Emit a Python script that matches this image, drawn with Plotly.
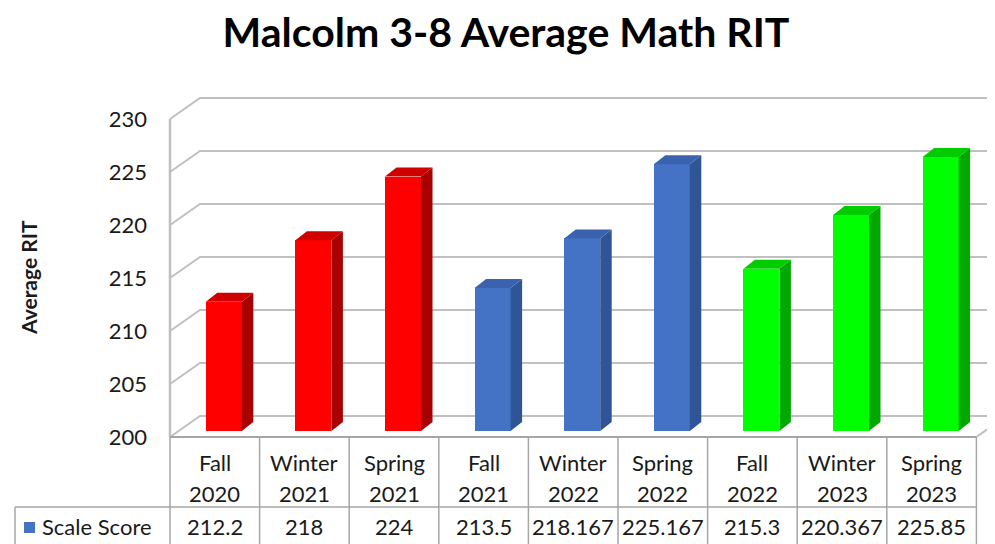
import plotly.graph_objects as go

# ---------------- data ----------------
categories = ["Fall 2020", "Winter 2021", "Spring 2021",
              "Fall 2021", "Winter 2022", "Spring 2022",
              "Fall 2022", "Winter 2023", "Spring 2023"]
scores = [212.2, 218, 224, 213.5, 218.167, 225.167, 215.3, 220.367, 225.85]
y_ticks = [200, 205, 210, 215, 220, 225, 230]
series_name = "Scale Score"
chart_title = "Malcolm 3-8 Average Math RIT"
y_title = "Average RIT"

# ---------------- styles ----------------
front_colors = ["#FF0000"] * 3 + ["#4472C4"] * 3 + ["#00FF00"] * 3
side_colors = ["#A80000"] * 3 + ["#2F5597"] * 3 + ["#00A800"] * 3
top_colors = ["#D00000"] * 3 + ["#3A62AE"] * 3 + ["#00CC00"] * 3
grid_color = "#C0C0C0"
table_color = "#A6A6A6"
font_family = "Lato, Carlito, 'Open Sans', sans-serif"

# the page body has an 8px margin; work in page pixels and shift
OFF = 8
PAGE_W, PAGE_H = 995, 544
FIG_W, FIG_H = PAGE_W - OFF, PAGE_H - OFF
LEFT_PX, TOP_PX, BOTTOM_PX = 168, 90, 437     # plot area in page pixels
M_L, M_T = LEFT_PX - OFF, TOP_PX - OFF
M_B = FIG_H - (BOTTOM_PX - OFF)
PLOT_W = FIG_W - M_L
PLOT_H = FIG_H - M_T - M_B
PX = 89.6     # pixels per category
PY = 10.6     # pixels per score unit
Y0 = y_ticks[0]

x_min = -0.5 - (170 - LEFT_PX) / PX
x_max = x_min + PLOT_W / PX
y_min = Y0
y_max = Y0 + PLOT_H / PY

# pseudo 3D offsets (data units)
BACK_DX, BACK_DY = 30 / PX, 21 / PY      # back wall
BAR_DX, BAR_DY = 9 / PX, 6 / PY          # bar plane
BAR_W = 36 / PX
DEP_DX, DEP_DY = 11.5 / PX, 9 / PY       # bar depth


def px_to_paper_x(p):
    return (p - LEFT_PX) / PLOT_W


def px_to_paper_y(p):
    return (BOTTOM_PX - p) / PLOT_H


fig = go.Figure()

shapes = []
# back wall gridlines + side wall diagonals
for v in y_ticks:
    shapes.append(dict(type="path", xref="x", yref="y", layer="below",
                       path=f"M {-0.5},{v} L {-0.5 + BACK_DX},{v + BACK_DY} L {x_max + 1},{v + BACK_DY}",
                       line=dict(color=grid_color, width=2)))
# right floor edge
shapes.append(dict(type="line", xref="x", yref="y", layer="below",
                   x0=len(categories) - 0.5, y0=Y0,
                   x1=len(categories) - 0.5 + BACK_DX, y1=Y0 + BACK_DY,
                   line=dict(color=grid_color, width=2)))
# front vertical axis line
shapes.append(dict(type="line", xref="x", yref="y", layer="above",
                   x0=-0.5, y0=y_ticks[0], x1=-0.5, y1=y_ticks[-1],
                   line=dict(color="#BFBFBF", width=2.5)))

# bar fronts
base = Y0 + BAR_DY
fig.add_trace(go.Bar(
    x=[i + BAR_DX for i in range(len(categories))],
    y=[s - Y0 for s in scores],
    base=base,
    width=BAR_W,
    marker=dict(color=front_colors, line=dict(width=0)),
    hoverinfo="skip",
    showlegend=False,
))

# side and top faces
for i, s in enumerate(scores):
    xc = i + BAR_DX
    x0, x1 = xc - BAR_W / 2, xc + BAR_W / 2
    top = s + BAR_DY
    fig.add_trace(go.Scatter(
        x=[x1, x1 + DEP_DX, x1 + DEP_DX, x1, x1],
        y=[base, base + DEP_DY, top + DEP_DY, top, base],
        mode="lines", fill="toself", fillcolor=side_colors[i],
        line=dict(width=0), hoverinfo="skip", showlegend=False))
    fig.add_trace(go.Scatter(
        x=[x0, x0 + DEP_DX, x1 + DEP_DX, x1, x0],
        y=[top, top + DEP_DY, top + DEP_DY, top, top],
        mode="lines", fill="toself", fillcolor=top_colors[i],
        line=dict(width=0), hoverinfo="skip", showlegend=False))

# ---------------- data table ----------------
row_line_y = px_to_paper_y(507)
bottom_y = px_to_paper_y(560)
shapes.append(dict(type="line", xref="x", yref="paper", x0=-0.5, x1=len(categories) - 0.5,
                   y0=0, y1=0, line=dict(color=table_color, width=2)))
for i in range(len(categories) + 1):
    shapes.append(dict(type="line", xref="x", yref="paper", x0=i - 0.5, x1=i - 0.5,
                       y0=0, y1=bottom_y, line=dict(color=table_color, width=1.5)))
shapes.append(dict(type="line", xref="paper", yref="paper",
                   x0=px_to_paper_x(15), x1=px_to_paper_x(170),
                   y0=row_line_y, y1=row_line_y, line=dict(color=table_color, width=1.5)))
shapes.append(dict(type="line", xref="x", yref="paper", x0=-0.5, x1=len(categories) - 0.5,
                   y0=row_line_y, y1=row_line_y, line=dict(color=table_color, width=1.5)))
shapes.append(dict(type="line", xref="paper", yref="paper",
                   x0=px_to_paper_x(15), x1=px_to_paper_x(15),
                   y0=row_line_y, y1=bottom_y, line=dict(color=table_color, width=1.5)))
# legend key
shapes.append(dict(type="rect", xref="paper", yref="paper",
                   x0=px_to_paper_x(24), x1=px_to_paper_x(35),
                   y0=px_to_paper_y(533), y1=px_to_paper_y(522),
                   fillcolor="#4472C4", line=dict(width=0)))

annotations = []
tfont = dict(family=font_family, size=22, color="#1A1A1A")
for i, (c, s) in enumerate(zip(categories, scores)):
    season, year = c.split(" ")
    annotations.append(dict(x=i, y=px_to_paper_y(462), xref="x", yref="paper",
                            text=season, showarrow=False, font=tfont,
                            xanchor="center", yanchor="middle"))
    annotations.append(dict(x=i, y=px_to_paper_y(493), xref="x", yref="paper",
                            text=year, showarrow=False, font=tfont,
                            xanchor="center", yanchor="middle"))
    annotations.append(dict(x=i, y=px_to_paper_y(526), xref="x", yref="paper",
                            text=f"{s:g}", showarrow=False, font=tfont,
                            xanchor="center", yanchor="middle"))
annotations.append(dict(x=px_to_paper_x(40), y=px_to_paper_y(526), xref="paper", yref="paper",
                        text=series_name, showarrow=False, font=tfont,
                        xanchor="left", yanchor="middle"))
annotations.append(dict(x=px_to_paper_x(28), y=px_to_paper_y(278), xref="paper", yref="paper",
                        text=f"<b>{y_title}</b>", showarrow=False, textangle=-90,
                        font=dict(family=font_family, size=21, color="#1A1A1A"),
                        xanchor="center", yanchor="middle"))

fig.update_layout(
    width=FIG_W, height=FIG_H,
    margin=dict(l=M_L, r=0, t=M_T, b=M_B, pad=0),
    paper_bgcolor="white", plot_bgcolor="white",
    title=dict(text=f"<b>{chart_title}</b>", x=(506 - OFF) / FIG_W, xref="container",
               xanchor="center", y=1 - (33 - OFF) / FIG_H, yref="container", yanchor="middle",
               font=dict(family=font_family, size=41, color="#000000")),
    xaxis=dict(range=[x_min, x_max], visible=False, fixedrange=True),
    yaxis=dict(range=[y_min, y_max], tickvals=y_ticks, showgrid=False, zeroline=False,
               showline=False, ticks="", ticklabelstandoff=20,
               tickfont=dict(family=font_family, size=22, color="#1A1A1A"), fixedrange=True),
    shapes=shapes,
    annotations=annotations,
    showlegend=False,
    bargap=0,
)

fig.write_html("out.html")
